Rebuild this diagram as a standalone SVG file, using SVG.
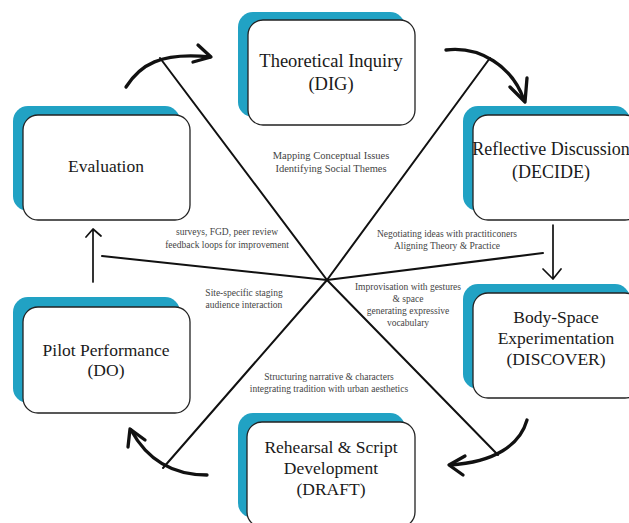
<svg xmlns="http://www.w3.org/2000/svg" width="629" height="523" viewBox="0 0 629 523">
<style>
.back{fill:#21a2c4;}
.box{fill:#ffffff;stroke:#222;stroke-width:1.3;}
.t{font-family:'Liberation Serif','Times New Roman',serif;font-size:17.5px;fill:#1a1a1a;text-anchor:middle;}
.s{font-family:'Liberation Serif','Times New Roman',serif;font-size:9.5px;fill:#444;text-anchor:middle;}
.con{stroke:#111;stroke-width:2;fill:none;stroke-linecap:round;}
.arc{stroke:#111;stroke-width:3.3;fill:none;stroke-linecap:round;stroke-linejoin:round;}
.thin{stroke:#111;stroke-width:1.7;fill:none;stroke-linecap:round;stroke-linejoin:round;}
</style>
<rect width="629" height="523" fill="#ffffff"/>
<g id="connectors">
<line class="con" x1="327" y1="280" x2="160" y2="58"/>
<line class="con" x1="327" y1="280" x2="490" y2="58"/>
<line class="con" x1="327" y1="280" x2="543" y2="253"/>
<line class="con" x1="327" y1="280" x2="498" y2="455"/>
<line class="con" x1="327" y1="280" x2="163" y2="468"/>
<line class="con" x1="327" y1="280" x2="102" y2="256"/>
<path class="arc" d="M126,87 C140,65 160,52 210,57"/>
<path class="arc" d="M198,45 L211,57 L193,62"/>
<path class="arc" d="M446,50 C480,46 512,66 524,100"/>
<path class="arc" d="M510,87 L525,102 L527,78"/>
<path class="arc" d="M527,420 C520,445 495,462 450,465"/>
<path class="arc" d="M465,456 L449,465 L463,475"/>
<path class="arc" d="M207,475 C180,475 150,465 131,430"/>
<path class="arc" d="M128,447 L130,429 L145,440"/>
<path class="thin" d="M553,225 L553,279 M543,269 L553,279 L561,269"/>
<path class="thin" d="M93,282 L93,229 M86,237 L93,229 L101,236"/>
</g>
<g id="theoretical">
<rect class="back" x="238" y="12" width="167" height="105" rx="15"/>
<rect class="box" x="248" y="20" width="167" height="105" rx="15"/>
<text class="t" x="331" y="67" style="font-size:18.5px">Theoretical Inquiry</text>
<text class="t" x="331" y="90" style="font-size:18.5px">(DIG)</text>
</g>
<g id="reflective">
<rect class="back" x="463" y="106" width="167" height="105" rx="15"/>
<rect class="box" x="473" y="115" width="167" height="105" rx="15"/>
<text class="t" x="551" y="155" style="font-size:18px">Reflective Discussion</text>
<text class="t" x="551" y="178" style="font-size:18px">(DECIDE)</text>
</g>
<g id="bodyspace">
<rect class="back" x="463" y="284" width="167" height="105" rx="15"/>
<rect class="box" x="473" y="293" width="167" height="105" rx="15"/>
<text class="t" x="556" y="323">Body-Space</text>
<text class="t" x="556" y="344">Experimentation</text>
<text class="t" x="556" y="365">(DISCOVER)</text>
</g>
<g id="rehearsal">
<rect class="back" x="238" y="413" width="167" height="105" rx="15"/>
<rect class="box" x="247" y="422" width="168" height="105" rx="15"/>
<text class="t" x="331" y="453">Rehearsal &amp; Script</text>
<text class="t" x="331" y="474">Development</text>
<text class="t" x="331" y="495">(DRAFT)</text>
</g>
<g id="pilot">
<rect class="back" x="13" y="297" width="167" height="106" rx="15"/>
<rect class="box" x="23" y="307" width="167" height="106" rx="15"/>
<text class="t" x="106" y="356">Pilot Performance</text>
<text class="t" x="106" y="376">(DO)</text>
</g>
<g id="evaluation">
<rect class="back" x="13" y="106" width="167" height="105" rx="15"/>
<rect class="box" x="23" y="115" width="167" height="105" rx="15"/>
<text class="t" x="106" y="172">Evaluation</text>
</g>
<g id="labels">
<text class="s" x="331" y="159" style="font-size:10.5px">Mapping Conceptual Issues</text>
<text class="s" x="331" y="172" style="font-size:10.5px">Identifying Social Themes</text>
<text class="s" x="227" y="235">surveys, FGD, peer review</text>
<text class="s" x="227" y="248">feedback loops for improvement</text>
<text class="s" x="447" y="237">Negotiating ideas with practiticoners</text>
<text class="s" x="447" y="249">Aligning Theory &amp; Practice</text>
<text class="s" x="408" y="290">Improvisation with gestures</text>
<text class="s" x="408" y="302">&amp; space</text>
<text class="s" x="408" y="314">generating expressive</text>
<text class="s" x="408" y="326">vocabulary</text>
<text class="s" x="244" y="296">Site-specific staging</text>
<text class="s" x="244" y="308">audience interaction</text>
<text class="s" x="329" y="380">Structuring narrative &amp; characters</text>
<text class="s" x="329" y="392">integrating tradition with urban aesthetics</text>
</g>
</svg>
